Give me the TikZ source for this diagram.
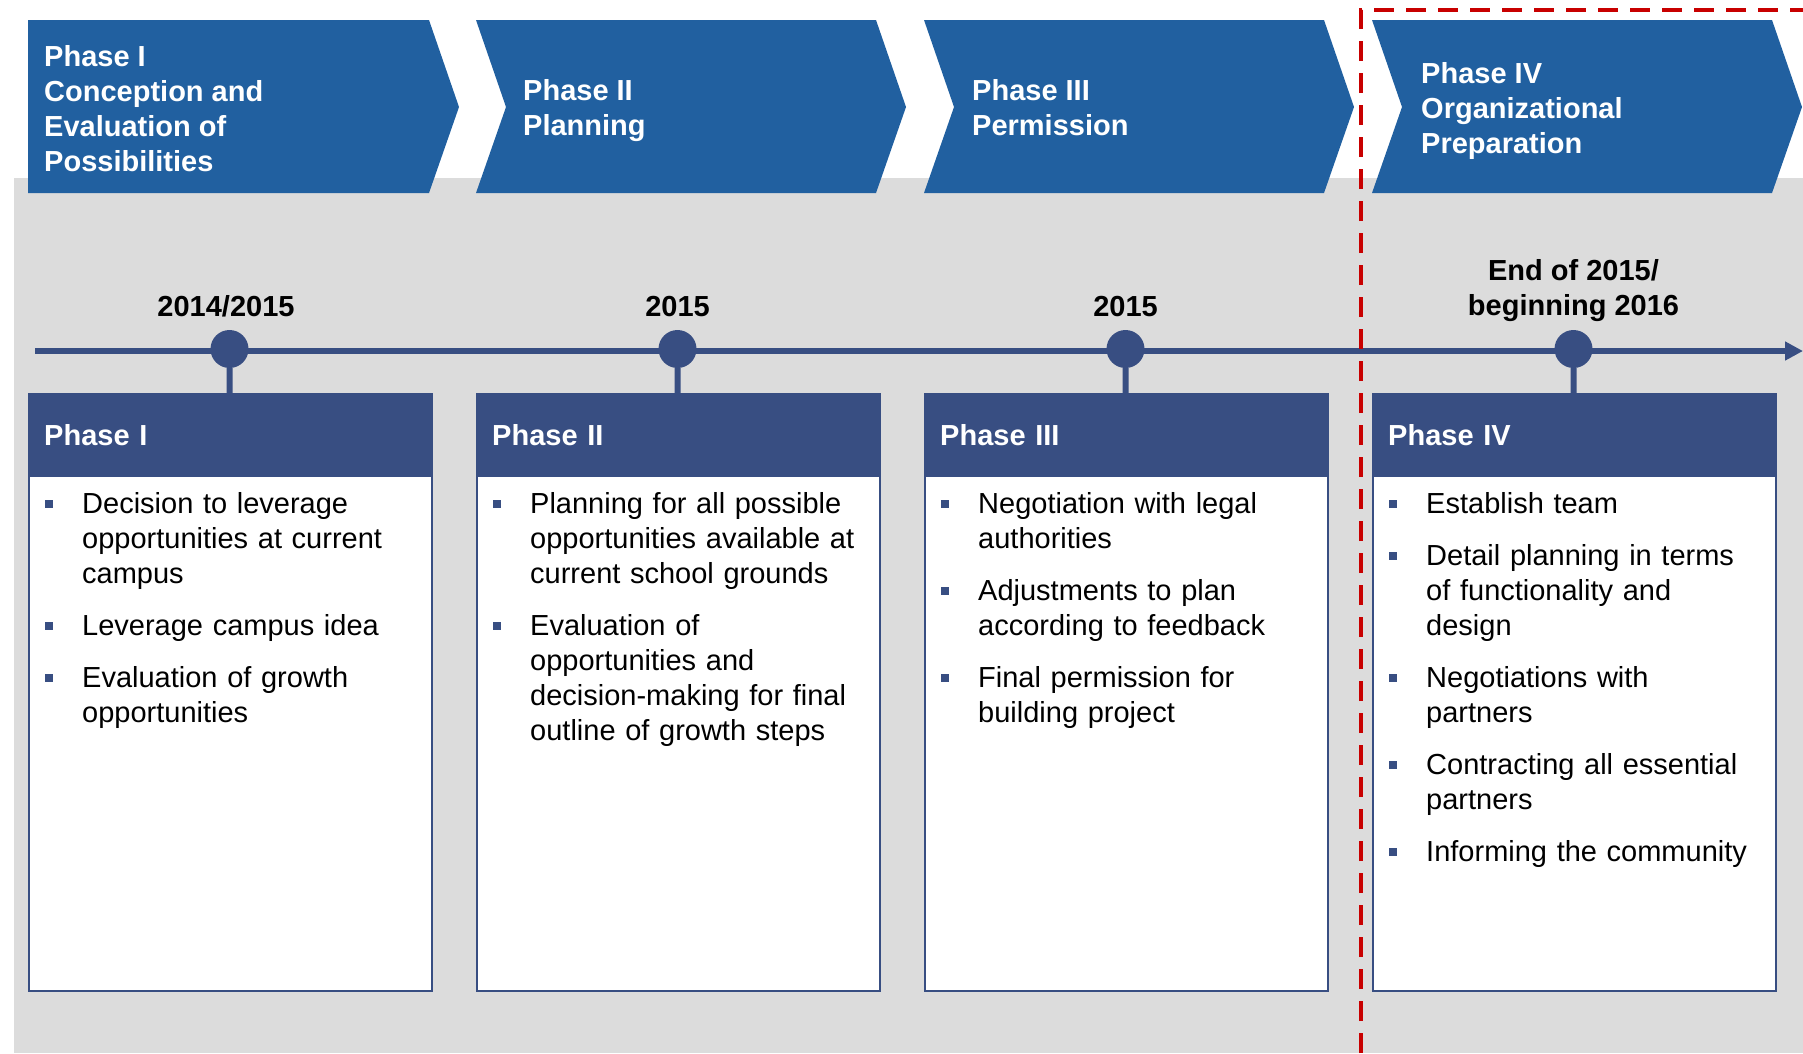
\documentclass[tikz,border=0pt]{standalone}
\usepackage{fontspec}
\setmainfont{Liberation Sans}
\usetikzlibrary{arrows.meta}
\definecolor{chevblue}{RGB}{33,96,160}
\definecolor{navy}{RGB}{56,78,130}
\definecolor{panelgray}{RGB}{220,220,220}
\definecolor{dashred}{RGB}{200,0,0}
\newcommand\bul{\hangindent=37pt\makebox[37pt][l]{\textcolor{navy}{\rule[5pt]{8pt}{8pt}}}}
\tikzset{
  chev/.style={fill=chevblue},
  chevtext/.style={anchor=west, align=left, text=white, inner sep=0pt, font=\fontsize{29}{35}\selectfont\bfseries},
  datetext/.style={anchor=base, align=center, inner sep=0pt, font=\fontsize{29}{35}\selectfont\bfseries},
  dot/.style={circle, fill=navy, minimum size=38pt, inner sep=0pt},
  panel/.style={anchor=north west, draw=navy, line width=2pt, fill=white, minimum width=403pt, minimum height=597pt, inner sep=0pt},
  hdr/.style={anchor=north west, fill=navy, text=white, minimum width=403pt, minimum height=84pt, text width=371pt, inner xsep=16pt, inner ysep=0pt, font=\fontsize{29}{35}\selectfont\bfseries},
  items/.style={anchor=base west, inner sep=0pt, text width=380pt, font=\fontsize{29}{35}\selectfont, execute at begin node={\setlength{\parskip}{17pt}}},
  tline/.style={navy, line width=6pt, -{Triangle[length=18pt,width=18pt]}},
  stem/.style={navy, line width=6pt},
  reddash/.style={dashred, line width=4pt, dash pattern=on 20pt off 12pt},
}
\begin{document}
\begin{tikzpicture}[x=1pt,y=-1pt]
\useasboundingbox (0,0) rectangle (1803,1053);
\fill[panelgray] (14,178) rectangle (1803,1053);
\fill[chev] (28,20) -- (429,20) -- (459,107) -- (429,193) -- (28,193) -- cycle;
\foreach \x in {476,924,1372}
  \fill[chev] (\x,20) -- (\x+400,20) -- (\x+430,107) -- (\x+400,193) -- (\x,193) -- (\x+30,107) -- cycle;
\node[chevtext] (cI) at (44,109) {Phase I\\Conception and\\Evaluation of\\Possibilities};
\node[chevtext] (cII) at (523,111) {Phase II\\Planning};
\node[chevtext] (cIII) at (972,108) {Phase III\\Permission};
\node[chevtext] (cIV) at (1421,111) {Phase IV\\Organizational\\Preparation};
\coordinate (tlstart) at (35,351);
\coordinate (tlend) at (1803,351);
\draw[tline] (tlstart) -- (tlend);
\foreach \x/\n in {28/I,476/II,924/III,1372/IV} {
  \node[panel] (p\n) at (\x,393) {};
  \node[hdr] (h\n) at (\x,393) {Phase \n};
  \node[dot] (d\n) at (\x+201.5,349) {};
  \draw[stem] (d\n) -- (h\n.north);
}
\node[datetext] (tI) at (226,316) {2014/2015};
\node[datetext] (tII) at (677.5,316) {2015};
\node[datetext] (tIII) at (1125.5,316) {2015};
\node[datetext] (tIV) at (1573.5,315) {End of 2015/\\beginning 2016};
\node[items] (iI) at (45,513) {\bul Decision to leverage\newline opportunities at current\newline campus\par
\bul Leverage campus idea\par
\bul Evaluation of growth\newline opportunities\par};
\node[items] (iII) at (493,513) {\bul Planning for all possible\newline opportunities available at\newline current school grounds\par
\bul Evaluation of\newline opportunities and\newline decision-making for final\newline outline of growth steps\par};
\node[items] (iIII) at (941,513) {\bul Negotiation with legal\newline authorities\par
\bul Adjustments to plan\newline according to feedback\par
\bul Final permission for\newline building project\par};
\node[items] (iIV) at (1389,513) {\bul Establish team\par
\bul Detail planning in terms\newline of functionality and\newline design\par
\bul Negotiations with\newline partners\par
\bul Contracting all essential\newline partners\par
\bul Informing the community\par};
\draw[reddash] (1361,1053) -- (1361,10) -- (1803,10);
\end{tikzpicture}
\end{document}
